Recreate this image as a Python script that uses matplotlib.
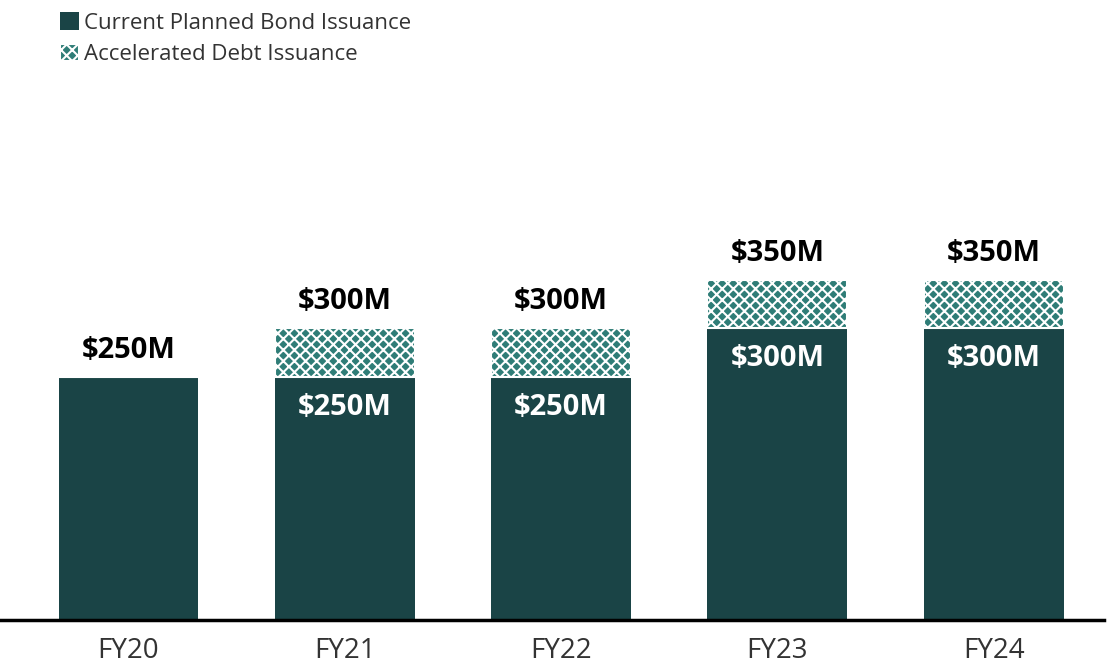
import numpy as np
import matplotlib.pyplot as plt

plt.rcParams['font.family'] = ['Open Sans', 'DejaVu Sans']
plt.rcParams['hatch.linewidth'] = 1.5

years = ['FY20', 'FY21', 'FY22', 'FY23', 'FY24']
planned = np.array([250, 250, 250, 300, 300])
accelerated = np.array([0, 50, 50, 50, 50])
total = planned + accelerated

dark = '#1a4446'
teal = '#2f7d77'

fig = plt.figure(figsize=(11.09, 6.68), dpi=100)
ax = fig.add_axes([0, 0.0719, 0.9955, 0.7936])

x = np.arange(len(years))
w = 0.647
b1 = ax.bar(x, planned, w, color=dark, label='Current Planned Bond Issuance')
b2 = ax.bar(x, accelerated, w, bottom=planned, color=teal, edgecolor='white',
            hatch='xxx', linewidth=1.5, label='Accelerated Debt Issuance')

for i in range(len(years)):
    ax.annotate(f'${total[i]}M', (x[i], total[i]), xytext=(0, 19),
                textcoords='offset points', ha='center', va='center',
                fontsize=21, fontweight='bold', color='black')
    if accelerated[i] > 0:
        ax.annotate(f'${planned[i]}M', (x[i], planned[i]), xytext=(0, -22),
                    textcoords='offset points', ha='center', va='center',
                    fontsize=21, fontweight='bold', color='white')

ax.set_xlim(-0.594, 4.51)
ax.set_ylim(0, 545)
ax.set_xticks(x)
ax.set_xticklabels(years, fontsize=20, color='#333333')
ax.tick_params(axis='x', length=0, pad=12)
ax.set_yticks([])
for s in ['top', 'right', 'left']:
    ax.spines[s].set_visible(False)
ax.spines['bottom'].set_linewidth(2.5)
ax.spines['bottom'].set_color('black')

fig.legend(handles=[b1, b2], loc='upper left', bbox_to_anchor=(0.036, 1.012),
           frameon=False, fontsize=16, handlelength=0.85, handleheight=0.85,
           handletextpad=0.25, labelspacing=0.45, labelcolor='#333333')

fig.savefig('out.png', dpi=100)
